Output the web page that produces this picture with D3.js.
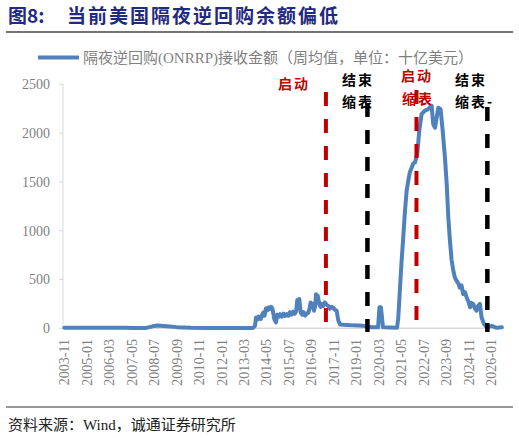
<!DOCTYPE html>
<html><head><meta charset="utf-8">
<script src="https://cdn.jsdelivr.net/npm/d3@7"></script>
<style>
html,body{margin:0;padding:0;background:#fff;}
svg{display:block;}
</style></head>
<body>
<svg id="c" width="519" height="438"></svg>
<script>
// ---- data ----
const dates = ["2003-11-01","2005-06-01","2007-01-01","2007-06-01","2008-02-01","2008-06-01","2008-09-01","2009-03-01","2009-09-01","2010-06-01","2011-06-01","2013-08-18",
"2013-09-25","2013-10-15","2013-11-10","2013-12-05","2014-01-12","2014-02-10","2014-03-01","2014-03-25","2014-04-21","2014-05-20","2014-06-15","2014-07-06","2014-08-01","2014-08-25","2014-09-25","2014-10-27","2014-11-21","2014-12-20",
"2015-01-15","2015-02-15","2015-03-20","2015-04-15","2015-05-18","2015-06-20","2015-07-20","2015-08-21","2015-09-20","2015-10-21","2015-11-15","2015-12-06","2015-12-25",
"2016-01-13","2016-02-09","2016-03-10","2016-04-05","2016-05-01","2016-06-01","2016-07-01","2016-07-25","2016-08-16","2016-09-05","2016-09-24","2016-10-18","2016-11-10","2016-11-25","2016-12-15","2016-12-27",
"2017-01-27","2017-02-20","2017-03-12","2017-04-10","2017-05-13","2017-06-15","2017-07-15","2017-08-15","2017-09-15","2017-10-18","2017-11-20","2017-12-22","2018-01-22","2018-02-24",
"2018-07-01","2018-11-03","2019-05-10","2019-10-16","2020-02-15","2020-03-12","2020-04-09","2020-05-18","2021-02-09","2021-03-03","2021-04-06",
"2021-05-06","2021-06-06","2021-07-09","2021-08-09","2021-09-09","2021-10-10","2021-11-12","2021-12-15","2022-01-15","2022-02-27","2022-04-06","2022-05-21","2022-07-21",
"2022-09-24","2022-11-27","2022-12-27","2023-01-30","2023-04-01","2023-05-15","2023-06-24","2023-08-06","2023-09-09","2023-10-09","2023-11-09","2023-12-10",
"2024-01-12","2024-02-10","2024-03-15","2024-04-15","2024-05-15","2024-06-15","2024-07-18","2024-08-20","2024-09-21","2024-10-20","2024-11-24","2024-12-20","2025-01-24","2025-02-25","2025-03-27","2025-04-25","2025-05-30","2025-07-01","2025-08-15",
"2025-10-06","2026-01-09","2026-04-12","2026-07-21"];
const onrrp = [6,6,5,2,4,20,28,22,12,5,2,3,
25,110,90,120,95,140,160,130,205,185,215,200,220,195,95,60,140,120,
145,120,150,125,145,130,165,140,170,150,175,290,260,
300,160,140,165,130,150,160,200,265,230,250,180,230,350,300,335,
250,220,250,230,265,240,230,200,220,210,190,180,80,40,
35,30,25,10,10,215,215,10,5,100,415,
690,930,1200,1405,1510,1600,1645,1690,1700,1785,2025,2195,2230,
2245,2280,2090,2055,2260,2245,2025,1750,1475,1135,895,700,
590,520,485,460,415,440,350,370,315,280,215,260,250,200,180,230,250,110,45,
10,25,5,10];
const seriesName = "隔夜逆回购(ONRRP)接收金额（周均值，单位：十亿美元）";
const yTicks = [0,500,1000,1500,2000,2500];
const xTickLabels = ["2003-11","2005-01","2006-03","2007-05","2008-07","2009-09","2010-11","2012-01","2013-03","2014-05","2015-07","2016-09","2017-11","2019-01","2020-03","2021-05","2022-07","2023-09","2024-11","2026-01"];
const eventDates = ["2017-06-01","2019-07-28","2022-02-12","2025-10-18"];
const eventTypes = ["start","end","start","end"];
const eventLabels = [["启动"],["结束","缩表"],["启动","缩表"],["结束","缩表-"]];

// ---- drawing ----
const svg = d3.select("#c");
const parse = d3.timeParse("%Y-%m-%d");
const parseM = d3.timeParse("%Y-%m");
const x = d3.scaleTime().domain([parseM("2003-11"), parseM("2026-01")]).range([64.3, 491.3]);
const y = d3.scaleLinear().domain([0, 2500]).range([328.3, 84.3]);
const serif = "'Liberation Serif','Times New Roman','Noto Sans CJK SC',serif";
const cjk = "'Noto Sans CJK SC','Noto Sans CJK JP',sans-serif";

// title
svg.append("text").attr("x", 8).attr("y", 23).attr("font-family", cjk).attr("font-weight", 700)
  .attr("font-size", 19).attr("fill", "#1F2A80").text("图8:");
svg.append("text").attr("x", 67).attr("y", 23).attr("font-family", cjk).attr("font-weight", 700)
  .attr("font-size", 19).attr("letter-spacing", 2).attr("fill", "#1F2A80").text("当前美国隔夜逆回购余额偏低");
svg.append("line").attr("x1", 6).attr("x2", 513).attr("y1", 32).attr("y2", 32).attr("stroke", "#444").attr("stroke-width", 1.5);

// legend
svg.append("line").attr("x1", 38).attr("x2", 79).attr("y1", 57.5).attr("y2", 57.5)
  .attr("stroke", "#4F81BD").attr("stroke-width", 4);
svg.append("text").attr("x", 83).attr("y", 62.5).attr("font-family", serif).attr("font-size", 15)
  .attr("fill", "#7F7F7F").text(seriesName);

// axes
const gy = svg.append("g");
gy.append("line").attr("x1", 63).attr("x2", 63).attr("y1", y(2500)).attr("y2", y(0)).attr("stroke", "#D9D9D9");
yTicks.forEach(t => {
  gy.append("line").attr("x1", 59).attr("x2", 63).attr("y1", y(t)).attr("y2", y(t)).attr("stroke", "#D9D9D9");
  gy.append("text").attr("x", 50).attr("y", y(t)).attr("dy", "0.35em").attr("text-anchor", "end")
    .attr("font-family", serif).attr("font-size", 14).attr("fill", "#7F7F7F").text(t);
});
svg.append("line").attr("x1", 63).attr("x2", 503).attr("y1", y(0)).attr("y2", y(0)).attr("stroke", "#D9D9D9").attr("stroke-width", 1.5);
xTickLabels.forEach(l => {
  const px = x(parseM(l));
  svg.append("text").attr("transform", `translate(${px},339) rotate(-90)`).attr("text-anchor", "end")
    .attr("dy", "0.35em").attr("font-family", serif).attr("font-size", 14).attr("fill", "#7F7F7F").text(l);
});

// series line
const data = dates.map((d, i) => ({d: parse(d), v: onrrp[i]}));
svg.append("path").datum(data).attr("fill", "none").attr("stroke", "#4F81BD").attr("stroke-width", 4)
  .attr("stroke-linejoin", "round").attr("stroke-linecap", "round")
  .attr("d", d3.line().x(p => x(p.d)).y(p => y(p.v)));

// event dashed lines
const defs = svg.append("defs");
defs.append("filter").attr("id", "blur").attr("x", "-50%").attr("y", "-10%").attr("width", "200%").attr("height", "120%")
  .append("feGaussianBlur").attr("stdDeviation", 1.8);
const tops = [92, 103, 90, 107];
eventDates.forEach((d, i) => {
  const px = x(parse(d));
  const col = eventTypes[i] === "start" ? "#C00000" : "#000000";
  svg.append("line").attr("x1", px).attr("x2", px).attr("y1", tops[i] + 7).attr("y2", 338)
    .attr("stroke", "#B0B0B0").attr("stroke-width", 5).attr("stroke-dasharray", "14,13")
    .attr("opacity", 0.7).attr("filter", "url(#blur)");
  svg.append("line").attr("x1", px).attr("x2", px).attr("y1", tops[i]).attr("y2", 332)
    .attr("stroke", col).attr("stroke-width", eventTypes[i] === "start" ? 4 : 4.5).attr("stroke-dasharray", "14,13");
});

// event labels
const labelPos = [[[278, 89]], [[342, 85], [342, 107]], [[401, 81], [402, 104]], [[455, 85], [455, 107]]];
eventLabels.forEach((ls, i) => {
  const col = eventTypes[i] === "start" ? "#C00000" : "#000000";
  ls.forEach((t, j) => {
    svg.append("text").attr("x", labelPos[i][j][0]).attr("y", labelPos[i][j][1]).attr("font-family", cjk)
      .attr("font-weight", 700).attr("font-size", 14).attr("letter-spacing", 2)
      .attr("fill", col).text(t);
  });
});

// source
svg.append("line").attr("x1", 6).attr("x2", 513).attr("y1", 407).attr("y2", 407).attr("stroke", "#333").attr("stroke-width", 1.2);
svg.append("text").attr("x", 8).attr("y", 430).attr("font-family", serif).attr("font-size", 15)
  .attr("fill", "#222").text("资料来源：Wind，诚通证券研究所");
</script>
</body></html>
